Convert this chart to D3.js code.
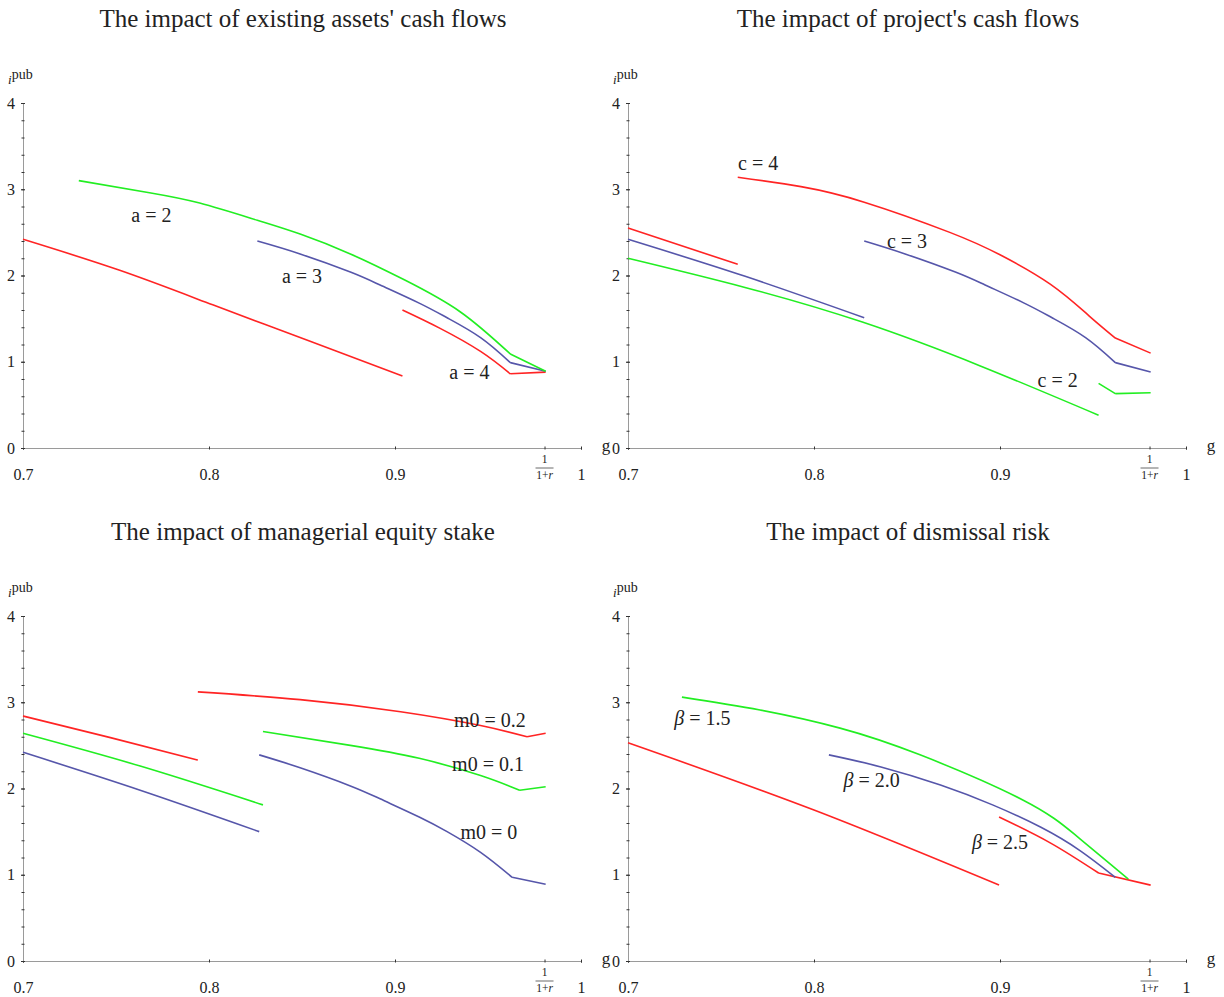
<!DOCTYPE html>
<html>
<head>
<meta charset="utf-8">
<script src="https://cdn.jsdelivr.net/npm/d3@7"></script>
<style>
    body { margin: 0; background: #fff; }
    svg text { font-family: "Liberation Serif", "Times New Roman", serif; fill: #222; }
    .axis path { stroke: #9a9a9a; }
    .axis line { stroke: #333; }
</style>
</head>
<body>
<svg id="chart" width="1224" height="997"></svg>
<script>

// tick values
const xTicks = [0.7, 0.8, 0.9, 1 / 1.02, 1]
const yTicks = [0, 1, 2, 3, 4]
const yMinor = d3.range(0, 4.001, 0.2)

// existing assets' cash flows (null = jump or kink)
const a2 = [[0.730, 3.10], [0.768, 2.96], [0.795, 2.84], [0.826, 2.64], [0.849, 2.48], [0.876, 2.25], [0.905, 1.95], [0.935, 1.58], [0.962, 1.09], null, [0.962, 1.09], [0.981, 0.89]]
const a3 = [[0.826, 2.40], [0.849, 2.25], [0.876, 2.04], [0.892, 1.89], [0.913, 1.68], [0.928, 1.51], [0.946, 1.28], [0.962, 0.99], null, [0.962, 0.99], [0.981, 0.89]]
const a4 = [[0.700, 2.42], [0.752, 2.06], [0.802, 1.66], [0.854, 1.24], [0.904, 0.835], null, [0.904, 1.60], [0.924, 1.39], [0.946, 1.12], [0.962, 0.86], null, [0.962, 0.86], [0.981, 0.88]]

// project's cash flows
const c4 = [[0.700, 2.55], [0.759, 2.13], null, [0.759, 3.14], [0.793, 3.03], [0.827, 2.85], [0.873, 2.50], [0.900, 2.24], [0.927, 1.90], [0.948, 1.53], [0.962, 1.275], null, [0.962, 1.275], [0.981, 1.10]]
const c3 = [[0.700, 2.42], [0.763, 1.99], [0.827, 1.51], null, [0.827, 2.40], [0.849, 2.25], [0.876, 2.04], [0.892, 1.89], [0.913, 1.68], [0.928, 1.51], [0.946, 1.28], [0.962, 0.99], null, [0.962, 0.99], [0.981, 0.88]]
const c2 = [[0.700, 2.20], [0.826, 1.46], [0.953, 0.38], null, [0.953, 0.75], [0.962, 0.63], null, [0.962, 0.63], [0.981, 0.64]]

// managerial equity stake
const m02 = [[0.700, 2.84], [0.747, 2.59], [0.794, 2.33], null, [0.794, 3.12], [0.849, 3.03], [0.903, 2.89], [0.946, 2.73], [0.971, 2.60], null, [0.971, 2.60], [0.981, 2.64]]
const m01 = [[0.700, 2.64], [0.763, 2.26], [0.829, 1.81], null, [0.829, 2.66], [0.876, 2.50], [0.913, 2.35], [0.946, 2.15], [0.967, 1.98], null, [0.967, 1.98], [0.981, 2.02]]
const m00 = [[0.700, 2.42], [0.763, 1.98], [0.827, 1.50], null, [0.827, 2.39], [0.849, 2.24], [0.876, 2.03], [0.892, 1.88], [0.913, 1.67], [0.928, 1.50], [0.946, 1.26], [0.963, 0.97], null, [0.963, 0.97], [0.981, 0.89]]

// dismissal risk
const b15 = [[0.729, 3.06], [0.771, 2.91], [0.814, 2.70], [0.857, 2.39], [0.912, 1.87], [0.940, 1.47], [0.959, 1.13], [0.969, 0.95]]
const b20 = [[0.808, 2.39], [0.836, 2.25], [0.868, 2.04], [0.896, 1.81], [0.922, 1.55], [0.943, 1.28], [0.962, 0.97]]
const b25 = [[0.700, 2.53], [0.800, 1.75], [0.8995, 0.88], null, [0.8995, 1.67], [0.927, 1.37], [0.953, 1.02], null, [0.953, 1.02], [0.981, 0.88]]

const red = '#ff2424'
const green = '#22ee22'
const blue = '#5656aa'

const panels = [
    {
        title: "The impact of existing assets' cash flows", ox: 23, oy: 448,
        series: [[a4, red], [a3, blue], [a2, green]],
        labels: [['a = 2', 0.769, 2.70], ['a = 3', 0.850, 1.99], ['a = 4', 0.940, 0.88]]
    },
    {
        title: "The impact of project's cash flows", ox: 628, oy: 448,
        series: [[c2, green], [c3, blue], [c4, red]],
        labels: [['c = 4', 0.770, 3.30], ['c = 3', 0.850, 2.40], ['c = 2', 0.931, 0.79]]
    },
    {
        title: 'The impact of managerial equity stake', ox: 23, oy: 961,
        series: [[m00, blue], [m01, green], [m02, red]],
        labels: [['m0 = 0.2', 0.951, 2.79], ['m0 = 0.1', 0.950, 2.28], ['m0 = 0', 0.9505, 1.50]]
    },
    {
        title: 'The impact of dismissal risk', ox: 628, oy: 961,
        series: [[b25, red], [b20, blue], [b15, green]],
        labels: [['β = 1.5', 0.740, 2.82], ['β = 2.0', 0.831, 2.10], ['β = 2.5', 0.900, 1.38]],
        greek: true
    }
]

const svg = d3.select('#chart')

panels.forEach(p => {

    const x = d3.scaleLinear().domain([0.7, 1]).range([p.ox, p.ox + 558])
    const y = d3.scaleLinear().domain([0, 4]).range([p.oy, p.oy - 345])
    const g = svg.append('g')

    // title
    g.append('text')
        .attr('x', p.ox + 280)
        .attr('y', p.oy - 421)
        .attr('text-anchor', 'middle')
        .style('font-size', '25px')
        .text(p.title)

    // x axis
    const xAxis = g.append('g')
        .attr('class', 'axis')
        .attr('transform', `translate(0,${p.oy})`)
        .call(d3.axisBottom(x)
            .tickValues(xTicks)
            .tickSizeOuter(0)
            .tickSize(2)
            .tickFormat(d => Math.abs(d - 1 / 1.02) < 1e-9 ? '' : (d === 1 ? '1' : d3.format('.1f')(d))))
    xAxis.selectAll('.tick line').attr('y1', -1.5).attr('y2', 1.5)
    xAxis.selectAll('.tick text')
        .attr('y', 32).attr('dy', null)
        .style('font-size', '16px').attr('fill', '#222')
    xAxis.select('.domain').attr('stroke', '#9a9a9a')

    // fraction label 1/(1+r)
    const fx = x(1 / 1.02)
    const frac = g.append('g').attr('transform', `translate(${fx},${p.oy})`)
    frac.append('text').attr('y', 15).attr('text-anchor', 'middle').style('font-size', '11.5px').text('1')
    frac.append('line').attr('x1', -9).attr('x2', 9).attr('y1', 20).attr('y2', 20).attr('stroke', '#444').attr('stroke-width', 0.8)
    const den = frac.append('text').attr('y', 31).attr('text-anchor', 'middle').style('font-size', '11.5px')
    den.append('tspan').text('1+')
    den.append('tspan').style('font-style', 'italic').text('r')

    // y axis, minor then major
    g.append('g')
        .attr('class', 'axis')
        .attr('transform', `translate(${p.ox},0)`)
        .call(d3.axisLeft(y).tickValues(yMinor).tickSize(1.5).tickSizeOuter(0).tickFormat(''))
        .call(a => a.selectAll('.tick line').attr('x1', 1.5).attr('stroke', '#666'))
        .call(a => a.select('.domain').attr('stroke', '#9a9a9a'))

    g.append('g')
        .attr('class', 'axis')
        .attr('transform', `translate(${p.ox},0)`)
        .call(d3.axisLeft(y).tickValues(yTicks).tickSize(2).tickPadding(6).tickSizeOuter(0).tickFormat(d3.format('d')))
        .call(a => a.select('.domain').remove())
        .call(a => a.selectAll('.tick line').attr('x1', 2))
        .call(a => a.selectAll('.tick text').style('font-size', '16px').attr('fill', '#222'))

    // axis names
    const yl = g.append('text')
        .attr('x', p.ox - 15)
        .attr('y', p.oy - 364)
    yl.append('tspan').style('font-style', 'italic').style('font-size', '13px').text('i')
    yl.append('tspan').attr('dy', -5).style('font-size', '14px').text('pub')

    g.append('text')
        .attr('x', x(1) + 25)
        .attr('y', p.oy + 3)
        .attr('text-anchor', 'middle')
        .style('font-size', '17px')
        .text('g')

    // curves
    const line = d3.line()
        .defined(d => d !== null)
        .x(d => x(d[0]))
        .y(d => y(d[1]))
        .curve(d3.curveNatural)

    g.selectAll('path.curve')
        .data(p.series)
        .join('path')
            .attr('class', 'curve')
            .attr('d', d => line(d[0]))
            .attr('fill', 'none')
            .attr('stroke', d => d[1])
            .attr('stroke-width', 1.6)

    // curve labels
    g.selectAll('text.lab')
        .data(p.labels)
        .join('text')
            .attr('class', 'lab')
            .attr('x', d => x(d[1]))
            .attr('y', d => y(d[2]))
            .attr('dy', '0.35em')
            .attr('text-anchor', 'middle')
            .style('font-size', '20px')
            .each(function(d) {
                const t = d3.select(this)
                if (p.greek) {
                    const parts = d[0].split(' = ')
                    t.append('tspan').style('font-style', 'italic').text(parts[0])
                    t.append('tspan').text(' = ' + parts[1])
                } else {
                    t.text(d[0])
                }
            })
})

</script>
</body>
</html>
